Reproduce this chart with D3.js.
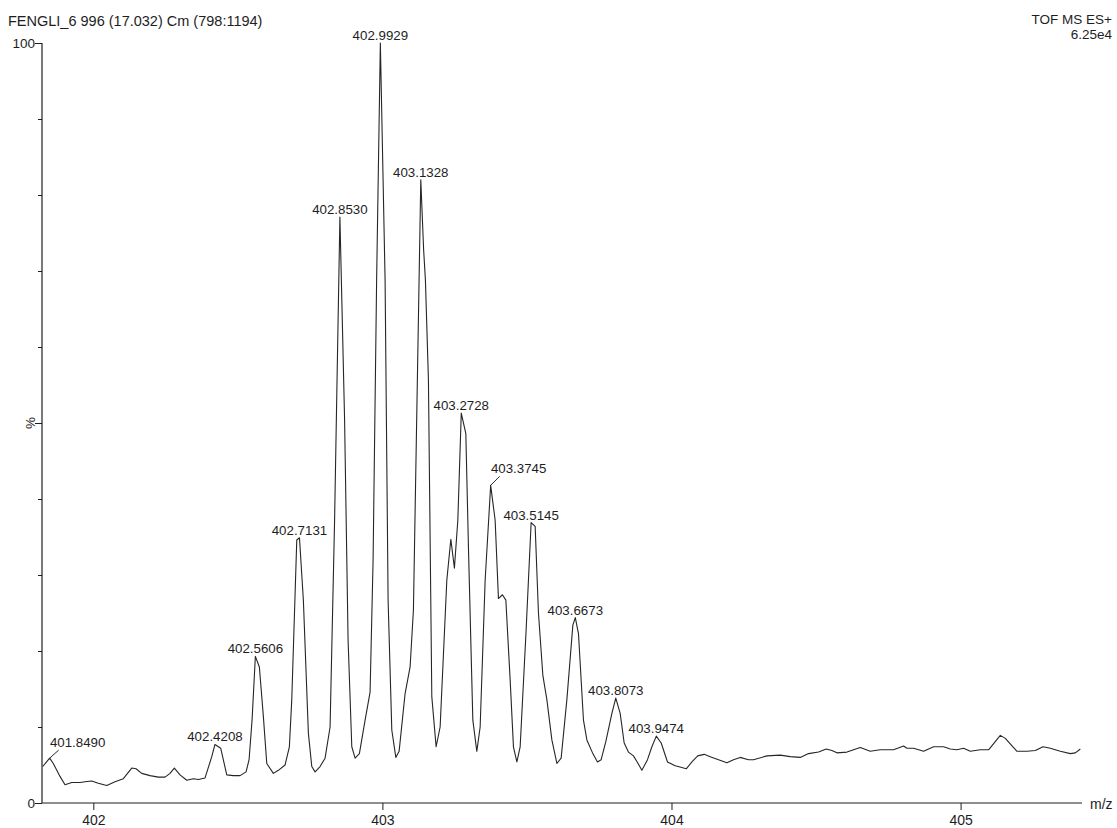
<!DOCTYPE html>
<html><head><meta charset="utf-8">
<script src="https://cdn.jsdelivr.net/npm/d3@7"></script>
<style>
html,body{margin:0;padding:0;background:#fff;}
svg{display:block;}
text{font-family:"Liberation Sans",Arial,sans-serif;fill:#1e1e1e;}
</style>
</head><body>
<svg id="c" width="1117" height="828"></svg>
<script>
// ---- data ----
const mz = [401.8249,401.849,401.8616,401.8848,401.9021,401.9253,401.954,401.9713,401.9945,402.0173,402.0464,402.0751,402.1038,402.1329,402.1478,402.1675,402.1962,402.2249,402.2481,402.2654,402.2803,402.3,402.3232,402.346,402.3633,402.3865,402.4097,402.4208,402.4408,402.4616,402.4844,402.5076,402.5284,402.5388,402.5491,402.5606,402.5744,402.5882,402.6,402.6228,402.6401,402.6633,402.6782,402.6865,402.7038,402.7131,402.7266,402.7439,402.7557,402.7671,402.7844,402.8017,402.819,402.8346,402.853,402.8692,402.8813,402.8941,402.9055,402.9204,402.9401,402.9574,402.9678,402.98,402.9929,403.0093,403.0197,403.0325,403.0464,403.0578,403.0785,403.0958,403.1073,403.1328,403.1426,403.1488,403.1592,403.1709,403.1858,403.1997,403.2228,403.2367,403.2491,403.2609,403.2728,403.2886,403.2976,403.3128,403.3266,403.3381,403.3554,403.3745,403.39,403.4014,403.4152,403.427,403.4419,403.4533,403.4651,403.4765,403.4972,403.5145,403.5284,403.5398,403.555,403.5689,403.5862,403.6035,403.6183,403.6381,403.6588,403.6673,403.6782,403.6955,403.7073,403.728,403.7439,403.7567,403.773,403.7938,403.8073,403.8225,403.8363,403.8512,403.8685,403.8813,403.8976,403.917,403.9322,403.9474,403.9644,403.9862,404.0128,404.0325,404.0509,404.0706,404.0907,404.1131,404.1339,404.1626,404.1917,404.2145,404.2377,404.2664,404.2837,404.3301,404.3761,404.4107,404.4453,404.474,404.5087,404.5353,404.555,404.5723,404.6069,404.6529,404.6875,404.7221,404.7682,404.8028,404.8145,404.8374,404.872,404.9066,404.9412,404.9644,404.9875,405.0104,405.0336,405.0682,405.0969,405.1374,405.1547,405.1952,405.2298,405.2585,405.2851,405.3104,405.345,405.3796,405.3969,405.4142];
const intensity = [4.8,5.9,5.2,3.5,2.4,2.7,2.7,2.8,2.9,2.6,2.3,2.8,3.2,4.6,4.5,3.9,3.6,3.4,3.4,3.9,4.6,3.7,3.0,3.2,3.1,3.3,6.1,7.7,7.2,3.7,3.6,3.6,4.1,5.7,10.9,19.3,17.9,11.4,5.2,3.9,4.3,5.0,7.4,13.6,34.6,34.9,26.7,9.2,4.8,4.1,4.8,5.9,10.0,37.2,77.1,50.4,21.4,7.4,5.9,6.5,10.9,14.6,32.0,68.8,100,68.8,26.7,9.6,6.0,6.8,14.4,17.9,25.4,82.0,72.8,68.8,55.7,14.0,7.4,10.0,29.3,34.7,30.9,37.2,51.3,48.6,33.7,10.9,6.8,10.0,29.3,41.8,37.2,26.9,27.4,26.7,16.2,7.4,5.4,7.4,22.8,36.9,36.4,25.0,16.8,13.6,8.3,5.2,5.9,13.6,23.4,24.4,22.3,10.9,8.3,6.5,5.4,5.7,8.1,11.8,13.8,11.8,7.9,6.7,6.2,5.4,4.3,5.7,7.4,8.8,7.9,5.4,4.9,4.7,4.5,5.4,6.2,6.4,6.1,5.7,5.3,5.7,6.0,5.7,5.7,6.2,6.3,6.1,6.0,6.5,6.7,7.1,6.9,6.6,6.7,7.3,6.8,7.0,7.0,7.5,7.2,7.2,6.8,7.4,7.4,7.1,7.0,7.2,6.8,7.0,7.0,8.9,8.5,6.8,6.8,6.9,7.4,7.2,6.8,6.5,6.6,7.1];
const labelMz = [401.849,402.4208,402.5606,402.7131,402.853,402.9929,403.1328,403.2728,403.3745,403.5145,403.6673,403.8073,403.9474];
const labelText = ["401.8490","402.4208","402.5606","402.7131","402.8530","402.9929","403.1328","403.2728","403.3745","403.5145","403.6673","403.8073","403.9474"];
const xTicks = [402,403,404,405];
const yTicks = [0,10,20,30,40,50,60,70,80,90,100];
const yLabelTicks = [0,100];
const titleText = "FENGLI_6 996 (17.032) Cm (798:1194)";
const instrumentText = "TOF MS ES+";
const scaleText = "6.25e4";
const xAxisTitle = "m/z";
const yAxisTitle = "%";

// ---- chart ----
const svg = d3.select("#c");
const x = d3.scaleLinear().domain([401.8225, 405.42]).range([42, 1082]);
const y = d3.scaleLinear().domain([0, 100]).range([803, 43]);
const ink = "#1e1e1e";

// header
svg.append("text").attr("x", 8).attr("y", 26).style("font-size", "14.5px").text(titleText);
svg.append("text").attr("x", 1112).attr("y", 24).attr("text-anchor", "end").style("font-size", "13.5px").text(instrumentText);
svg.append("text").attr("x", 1112).attr("y", 39).attr("text-anchor", "end").style("font-size", "13.5px").text(scaleText);

// spectrum line
const pts = mz.map((m, i) => [m, intensity[i]]);
svg.append("path").datum(pts)
  .attr("fill", "none").attr("stroke", "#262626").attr("stroke-width", 1.1)
  .attr("stroke-linejoin", "round")
  .attr("d", d3.line().x(d => x(d[0])).y(d => y(d[1])));

// y axis
const yAxis = d3.axisLeft(y).tickValues(yTicks).tickSize(4).tickPadding(2)
  .tickFormat(d => yLabelTicks.includes(d) ? String(d) : "");
const gy = svg.append("g").attr("transform", "translate(42,0)").call(yAxis);
gy.select(".domain").attr("stroke", ink).attr("stroke-width", 1.2).attr("d", `M0,${y(0)}V${y(100)}`);
gy.selectAll(".tick line").attr("stroke", ink)
  .attr("x2", d => (d % 50 === 0) ? -7 : -4);
gy.selectAll(".tick text").style("font-size", "13.5px").attr("fill", ink).attr("x", -7).attr("dy", "0.36em")
  .style("font-family", "'Liberation Sans',Arial,sans-serif");
svg.append("text").attr("transform", `translate(35,${y(50)}) rotate(-90)`)
  .attr("text-anchor", "middle").style("font-size", "13.5px").text(yAxisTitle);

// x axis
const xAxis = d3.axisBottom(x).tickValues(xTicks).tickSize(7).tickPadding(5).tickFormat(d3.format("d"));
const gx = svg.append("g").attr("transform", `translate(0,${y(0)})`).call(xAxis);
gx.select(".domain").attr("stroke", ink).attr("stroke-width", 1.2).attr("d", `M${x.range()[0]},0H${x.range()[1]}`);
gx.selectAll(".tick line").attr("stroke", ink);
gx.selectAll(".tick text").style("font-size", "14px").attr("fill", ink)
  .style("font-family", "'Liberation Sans',Arial,sans-serif");
svg.append("text").attr("x", 1090).attr("y", 809).style("font-size", "14px").text(xAxisTitle);

// peak labels
const leaderLabels = {"401.8490": [9, -8], "403.3745": [9, -9]};
labelMz.forEach((m, i) => {
  const idx = mz.indexOf(m);
  const px = x(m), py = y(intensity[idx]);
  const t = labelText[i];
  if (leaderLabels[t]) {
    const [lx, ly] = leaderLabels[t];
    svg.append("line").attr("x1", px).attr("y1", py).attr("x2", px + lx).attr("y2", py + ly)
      .attr("stroke", "#262626").attr("stroke-width", 1);
    svg.append("text").attr("x", px + lx + 19).attr("y", py + ly - 3)
      .attr("text-anchor", "middle").style("font-size", "13.3px").text(t);
  } else {
    svg.append("text").attr("x", px).attr("y", py - 3)
      .attr("text-anchor", "middle").style("font-size", "13.3px").text(t);
  }
});
</script>
</body></html>
